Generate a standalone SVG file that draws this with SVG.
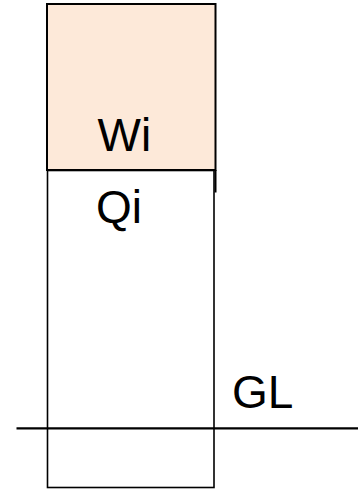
<svg xmlns="http://www.w3.org/2000/svg" width="363" height="489" viewBox="0 0 363 489">
<style>
.lbl{font-family:"Liberation Sans",Arial,sans-serif;font-size:46px;fill:#000}
.edge{stroke:#000;fill:none}
</style>
<rect width="363" height="489" fill="#fff"/>
<g id="lower">
<rect x="47.5" y="170.5" width="166.5" height="317" fill="#fff" stroke="#000" stroke-width="1.6"/>
<text class="lbl" x="96" y="223">Qi</text>
</g>
<g id="upper">
<rect x="47" y="4" width="168.5" height="166" fill="#fde9d9" stroke="#000" stroke-width="2"/>
<line class="edge" x1="215.5" y1="170" x2="215.5" y2="192.5" stroke-width="2"/>
<text class="lbl" x="97.5" y="151">Wi</text>
</g>
<g id="ground">
<line class="edge" x1="16.5" y1="428.3" x2="358" y2="428.3" stroke-width="2.2"/>
<text class="lbl" x="232" y="408">GL</text>
</g>
<g id="connectors"/>
</svg>
